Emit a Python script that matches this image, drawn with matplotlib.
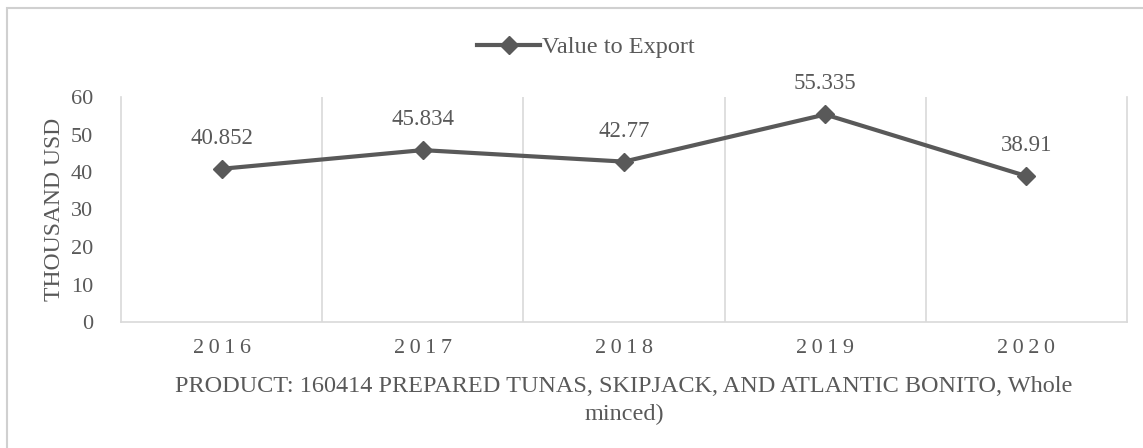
import matplotlib.pyplot as plt
from matplotlib.patches import Rectangle

# yearly export value (thousand USD)
years = ['2016', '2017', '2018', '2019', '2020']
values = [40.852, 45.834, 42.77, 55.335, 38.91]
value_labels = ['40.852', '45.834', '42.77', '55.335', '38.91']

grey = '#595959'
grid_grey = '#d9d9d9'
plt.rcParams['font.family'] = ['Liberation Serif', 'DejaVu Serif']

fig = plt.figure(figsize=(11.43, 4.48), dpi=100)
ax = fig.add_axes([121 / 1143, 1 - 322 / 448, (1127 - 121) / 1143, (322 - 97) / 448])

# light frame round the chart
fig.patches.append(Rectangle((7 / 1143, -0.1), 1.2, 1 - 8 / 448 + 0.1,
                             transform=fig.transFigure, fill=False,
                             edgecolor='#d0d0d0', linewidth=1.5))

x = list(range(len(years)))
ax.plot(x, values, color=grey, linewidth=3, marker='D', markersize=9,
        label='Value to Export')
for xi, v, lab in zip(x, values, value_labels):
    ax.annotate(lab, (xi, v), xytext=(0, 22), textcoords='offset points',
                ha='center', va='center', fontsize=16.5, color=grey)

ax.set_xlim(-0.5, len(years) - 0.5)
ax.set_ylim(0, 60)
ax.set_yticks(range(0, 61, 10))
ax.set_xticks(x)
ax.set_xticklabels(['\u2009'.join(y) for y in years])
ax.tick_params(axis='both', length=0, labelsize=16, labelcolor=grey)
ax.tick_params(axis='x', pad=12)
ax.tick_params(axis='y', pad=20)

# vertical separators between the years
ax.set_xticks([i + 0.5 for i in range(len(years) - 1)], minor=True)
ax.tick_params(axis='x', which='minor', length=0)
ax.grid(axis='x', which='minor', color=grid_grey, linewidth=1.2)
ax.grid(axis='x', which='major', visible=False)
ax.spines['top'].set_visible(False)
for side in ['left', 'right', 'bottom']:
    ax.spines[side].set_color(grid_grey)
    ax.spines[side].set_linewidth(1.2)

ax.set_ylabel('THOUSAND USD', fontsize=17, color=grey, labelpad=4)
ax.set_xlabel('PRODUCT: 160414 PREPARED TUNAS, SKIPJACK, AND ATLANTIC BONITO, Whole\nminced)',
              fontsize=17.5, color=grey, labelpad=13, linespacing=1.45)

ax.legend(loc='center', bbox_to_anchor=(0.462, 1.222), frameon=False,
          fontsize=17.5, labelcolor=grey, handlelength=2.6, handletextpad=0.05)

fig.savefig('out.png', dpi=100)
